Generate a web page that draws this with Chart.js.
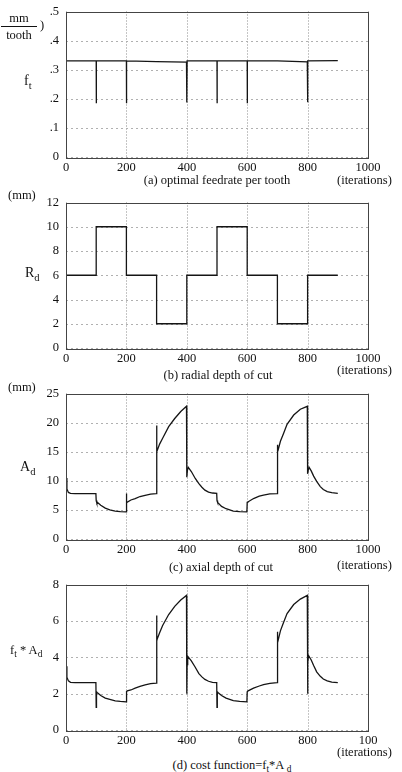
<!DOCTYPE html>
<html>
<head>
<meta charset="utf-8">
<script src="https://cdn.jsdelivr.net/npm/chart.js@4/dist/chart.umd.min.js"></script>
<style>
    html, body { margin: 0; padding: 0; background: #fff; }
    body { position: relative; width: 402px; height: 772px; overflow: hidden; }
    .panel { position: absolute; left: 0; width: 402px; height: 182px; }
    .lbl { position: absolute; font: 12.5px "Liberation Serif", serif; color: #111; white-space: nowrap; line-height: 1; }
    .ctr { transform: translateX(-50%); }
    .big { font-size: 14px; }
    sub { font-size: 0.75em; vertical-align: -0.35em; line-height: 0; }
    .frac { text-align: center; width: 36px; }
    .frac .num { border-bottom: 1px solid #111; padding-bottom: 1px; }
    .frac .den { padding-top: 2px; }
</style>
</head>
<body>

<div class="panel" style="top:-3px"><canvas id="chart-ft" width="402" height="182"></canvas></div>
<div class="panel" style="top:188px"><canvas id="chart-rd" width="402" height="182"></canvas></div>
<div class="panel" style="top:379px"><canvas id="chart-ad" width="402" height="182"></canvas></div>
<div class="panel" style="top:570px"><canvas id="chart-cf" width="402" height="182"></canvas></div>

<!-- rótulos dos eixos -->
<div class="lbl frac" style="left:1px;top:12px"><div class="num">mm</div><div class="den">tooth</div></div>
<div class="lbl" style="left:40px;top:19px">)</div>
<div class="lbl big" style="left:24px;top:74px">f<sub>t</sub></div>

<div class="lbl" style="left:8px;top:189px">(mm)</div>
<div class="lbl big" style="left:25px;top:266px">R<sub>d</sub></div>

<div class="lbl" style="left:8px;top:381px">(mm)</div>
<div class="lbl big" style="left:20px;top:460px">A<sub>d</sub></div>

<div class="lbl" style="left:10px;top:644px">f<sub>t</sub> * A<sub>d</sub></div>

<!-- legendas -->
<div class="lbl ctr" style="left:217px;top:174px">(a) optimal feedrate per tooth</div>
<div class="lbl" style="left:337px;top:174px">(iterations)</div>
<div class="lbl ctr" style="left:218px;top:369px">(b) radial depth of cut</div>
<div class="lbl" style="left:337px;top:364px">(iterations)</div>
<div class="lbl ctr" style="left:221px;top:561px">(c) axial depth of cut</div>
<div class="lbl" style="left:337px;top:559px">(iterations)</div>
<div class="lbl ctr" style="left:232px;top:759px">(d) cost function=f<sub>t</sub>*A <sub>d</sub></div>
<div class="lbl" style="left:337px;top:746px">(iterations)</div>

<script>
/* Quatro painéis empilhados: ft, Rd, Ad e custo ft*Ad versus iterações. */
(function () {
    "use strict";

    // eixo x comum
    var xTicks = ["0", "200", "400", "600", "800", "1000"];
    var xTicksLast = ["0", "200", "400", "600", "800", "100"];

    // (a) avanço por dente
    var ftIter = [0, 100, 100, 101, 200, 200, 201, 300, 399, 400, 400, 401, 500, 500, 501,
        600, 600, 601, 700, 799, 800, 800, 801, 900];
    var ftVal = [0.33, 0.33, 0.185, 0.33, 0.33, 0.185, 0.33, 0.328, 0.326, 0.326, 0.187, 0.33, 0.33, 0.185, 0.33,
        0.33, 0.185, 0.33, 0.33, 0.327, 0.327, 0.188, 0.33, 0.331];
    var ftTicks = ["0", ".1", ".2", ".3", ".4", ".5"];

    // (b) profundidade radial
    var rdIter = [0, 100, 100, 200, 200, 300, 300, 400, 400, 500, 500, 600, 600, 700, 700, 800, 800, 900];
    var rdVal = [6, 6, 10, 10, 6, 6, 2, 2, 6, 6, 10, 10, 6, 6, 2, 2, 6, 6];
    var rdTicks = ["0", "2", "4", "6", "8", "10", "12"];

    // (c) profundidade axial
    var adIter = [
        0, 3, 8, 15, 30, 60, 99,
        100, 102, 104, 115, 130, 145, 163, 180, 199,
        200, 201, 202, 215, 229, 245, 262, 280, 299,
        300, 301, 302, 310, 320, 340, 360, 380, 399,
        400, 402, 405, 415, 428, 440, 450, 460, 472, 485, 499,
        500, 502, 515, 530, 554, 575, 599,
        600, 602, 621, 640, 654, 675, 699,
        700, 701, 702, 710, 720, 732, 754, 776, 799,
        800, 802, 805, 812, 820, 830, 842, 852, 865, 880, 900
    ];
    var adVal = [
        10.5, 8.6, 8.0, 7.85, 7.8, 7.8, 7.8,
        6.6, 6.2, 6.3, 5.8, 5.3, 5.0, 4.8, 4.7, 4.65,
        7.8, 6.3, 6.3, 6.7, 6.95, 7.3, 7.5, 7.7, 7.78,
        19.5, 15.0, 15.2, 16.3, 17.3, 19.3, 20.7, 21.9, 22.8,
        10.6, 11.8, 12.3, 11.6, 10.4, 9.5, 8.9, 8.4, 8.05, 7.9, 7.85,
        6.6, 6.3, 5.6, 5.2, 4.8, 4.7, 4.65,
        6.3, 6.35, 6.95, 7.35, 7.55, 7.75, 7.8,
        16.2, 15.0, 15.2, 16.8, 18.1, 19.7, 21.3, 22.3, 22.8,
        11.2, 11.8, 12.3, 11.7, 10.8, 9.9, 9.0, 8.5, 8.15, 7.95, 7.85
    ];
    var adTicks = ["0", "5", "10", "15", "20", "25"];

    // (d) função custo ft*Ad
    var cfIter = [
        0, 3, 8, 15, 30, 60, 99,
        100, 101, 104, 115, 130, 145, 163, 180, 199,
        200, 201, 203, 215, 229, 245, 262, 280, 299,
        300, 301, 302, 310, 320, 340, 360, 380, 399,
        400, 401, 403, 415, 428, 440, 450, 460, 472, 485, 499,
        500, 501, 504, 515, 530, 554, 575, 599,
        600, 601, 603, 621, 640, 654, 675, 699,
        700, 701, 702, 710, 720, 732, 754, 776, 799,
        800, 801, 803, 812, 820, 830, 842, 852, 865, 880, 900
    ];
    var cfVal = [
        3.5, 2.9, 2.7, 2.62, 2.6, 2.6, 2.6,
        1.25, 2.1, 2.05, 1.9, 1.75, 1.68, 1.6, 1.57, 1.55,
        2.15, 2.1, 2.15, 2.2, 2.3, 2.4, 2.48, 2.55, 2.58,
        6.3, 4.9, 5.0, 5.35, 5.75, 6.35, 6.8, 7.15, 7.4,
        2.0, 3.6, 4.05, 3.8, 3.45, 3.1, 2.92, 2.78, 2.68, 2.62, 2.6,
        1.25, 2.1, 2.05, 1.9, 1.75, 1.62, 1.57, 1.55,
        2.1, 2.1, 2.15, 2.3, 2.42, 2.5, 2.56, 2.6,
        5.4, 4.8, 4.9, 5.45, 5.9, 6.4, 6.9, 7.2, 7.4,
        2.0, 3.7, 4.1, 3.85, 3.55, 3.2, 2.95, 2.8, 2.7, 2.63, 2.6
    ];
    var cfTicks = ["0", "2", "4", "6", "8"];

    var FONT = { family: "Liberation Serif", size: 12.5 };
    var INK = "#111";

    function $(id) { return document.getElementById(id); }

    function pontos(xs, ys) {
        return xs.map(function (x, i) { return { x: x, y: ys[i] }; });
    }

    // grade pontilhada nos ticks + moldura sólida
    var moldura = {
        id: "moldura",
        beforeDatasetsDraw: function (chart) {
            var a = chart.chartArea, c = chart.ctx;
            var sx = chart.scales.x, sy = chart.scales.y;
            c.save();
            c.lineWidth = 1;
            c.setLineDash([1, 2]);
            c.strokeStyle = "#8a8a8a";
            sx.ticks.forEach(function (t) {
                var px = Math.round(sx.getPixelForValue(t.value)) + 0.5;
                c.beginPath(); c.moveTo(px, a.top); c.lineTo(px, a.bottom); c.stroke();
            });
            c.strokeStyle = "#b0b0b0";
            c.setLineDash([2, 3]);
            sy.ticks.forEach(function (t) {
                var py = Math.round(sy.getPixelForValue(t.value)) + 0.5;
                c.beginPath(); c.moveTo(a.left, py); c.lineTo(a.right, py); c.stroke();
            });
            c.restore();
        },
        afterDraw: function (chart) {
            var a = chart.chartArea, c = chart.ctx;
            c.save();
            c.strokeStyle = "#444";
            c.lineWidth = 1;
            c.strokeRect(Math.round(a.left) + 0.5, Math.round(a.top) + 0.5,
                Math.round(a.right - a.left), Math.round(a.bottom - a.top));
            c.restore();
        }
    };

    function painel(id, xs, ys, yMax, yStep, yLabels, xLabels) {
        return new Chart($(id), {
            type: "line",
            data: {
                datasets: [{
                    data: pontos(xs, ys),
                    borderColor: "#151515",
                    borderWidth: 1.3,
                    pointRadius: 0,
                    tension: 0,
                    fill: false
                }]
            },
            options: {
                responsive: false,
                animation: false,
                devicePixelRatio: 1,
                layout: { padding: { top: 8, right: 34, left: 0, bottom: 0 } },
                plugins: { legend: { display: false }, tooltip: { enabled: false } },
                scales: {
                    x: {
                        type: "linear", min: 0, max: 1000,
                        afterFit: function (s) { s.height = 22; },
                        grid: { display: false, drawTicks: false },
                        border: { display: false },
                        ticks: {
                            stepSize: 200, autoSkip: false, maxRotation: 0, padding: 3,
                            color: INK, font: FONT,
                            callback: function (v, i) { return xLabels[i]; }
                        }
                    },
                    y: {
                        min: 0, max: yMax,
                        afterFit: function (s) { s.width = 66; },
                        grid: { display: false, drawTicks: false },
                        border: { display: false },
                        ticks: {
                            stepSize: yStep, autoSkip: false, padding: 7,
                            color: INK, font: FONT,
                            callback: function (v, i) { return yLabels[i]; }
                        }
                    }
                }
            },
            plugins: [moldura]
        });
    }

    painel("chart-ft", ftIter, ftVal, 0.5, 0.1, ftTicks, xTicks);
    painel("chart-rd", rdIter, rdVal, 12, 2, rdTicks, xTicks);
    painel("chart-ad", adIter, adVal, 25, 5, adTicks, xTicks);
    painel("chart-cf", cfIter, cfVal, 8, 2, cfTicks, xTicksLast);
})();
</script>
</body>
</html>
